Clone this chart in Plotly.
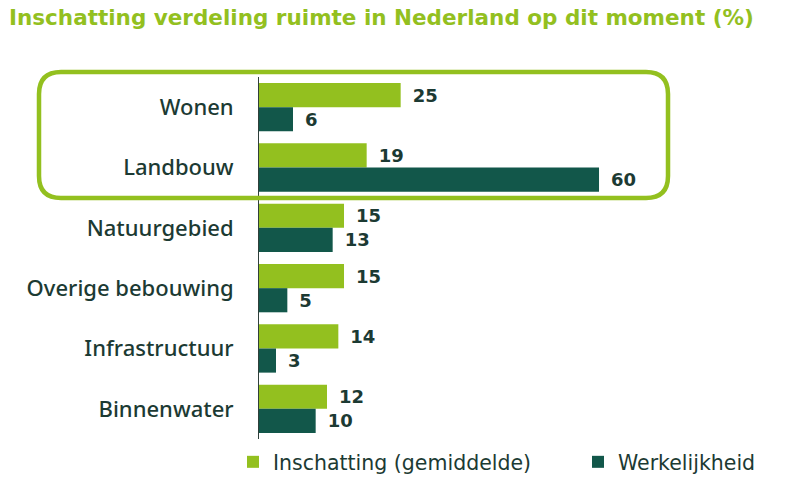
import plotly.graph_objects as go

categories = ["Wonen", "Landbouw", "Natuurgebied", "Overige bebouwing", "Infrastructuur", "Binnenwater"]
inschatting = [25, 19, 15, 15, 14, 12]
werkelijkheid = [6, 60, 13, 5, 3, 10]
series_names = ["Inschatting (gemiddelde)", "Werkelijkheid"]
title_text = "Inschatting verdeling ruimte in Nederland op dit moment (%)"

LIGHT = "#93C01F"
DARK = "#12574A"
TEXT = "#1C3A33"
FONT = "DejaVu Sans"

W, H = 800, 480
ML, MR, MT, MB = 259, 0, 77, 41
PW = W - ML - MR
PH = H - MT - MB
XMAX = PW / 5.667

GAP = "\u2002"

fig = go.Figure()
for name, vals, col in [(series_names[0], inschatting, LIGHT), (series_names[1], werkelijkheid, DARK)]:
    fig.add_trace(go.Bar(
        y=categories, x=vals, name=name, orientation="h",
        marker=dict(color=col, line=dict(width=0)),
        text=[GAP + str(v) for v in vals], textposition="outside",
        textfont=dict(family=FONT, size=18, color=TEXT, weight="bold"),
        cliponaxis=False,
    ))

def px2paper_x(px):
    return (px - ML) / PW

def px2paper_y(py):
    return 1 - (py - MT) / PH

# rounded highlight box around the first two categories
x0, x1, y0, y1, r = 39, 668, 72, 198, 22
X = px2paper_x; Y = px2paper_y
path = (f"M {X(x0 + r)} {Y(y0)} L {X(x1 - r)} {Y(y0)} Q {X(x1)} {Y(y0)} {X(x1)} {Y(y0 + r)} "
        f"L {X(x1)} {Y(y1 - r)} Q {X(x1)} {Y(y1)} {X(x1 - r)} {Y(y1)} "
        f"L {X(x0 + r)} {Y(y1)} Q {X(x0)} {Y(y1)} {X(x0)} {Y(y1 - r)} "
        f"L {X(x0)} {Y(y0 + r)} Q {X(x0)} {Y(y0)} {X(x0 + r)} {Y(y0)} Z")
fig.add_shape(type="path", path=path, xref="paper", yref="paper",
              line=dict(color=LIGHT, width=4.5), layer="above")

fig.update_layout(
    template="none",
    width=W, height=H,
    margin=dict(l=ML, r=MR, t=MT, b=MB, autoexpand=False),
    paper_bgcolor="white", plot_bgcolor="white",
    barmode="group", bargap=0.2, bargroupgap=0,
    title=dict(text=title_text, x=9 / W, xanchor="left", y=1 - 17 / H, yanchor="middle",
               font=dict(family=FONT, size=21.5, color=LIGHT, weight="bold")),
    xaxis=dict(range=[0, XMAX], visible=False, showgrid=False, zeroline=False, automargin=False),
    yaxis=dict(autorange="reversed", showgrid=False, zeroline=False, showline=True, automargin=False,
               linecolor="#2F3F3A", linewidth=1, ticks="", ticklabelstandoff=20,
               tickfont=dict(family="Noto Sans", size=22, color=TEXT, weight=500)),
    legend=dict(orientation="h", xref="paper", yref="paper",
                x=px2paper_x(233), xanchor="left", y=px2paper_y(462), yanchor="middle",
                font=dict(family=FONT, size=20.5, color=TEXT), entrywidth=300, entrywidthmode="pixels",
                itemsizing="constant", bgcolor="rgba(0,0,0,0)", borderwidth=0),
    showlegend=True,
)

fig.write_html("out.html", config={"displayModeBar": False},
               post_script="document.body.style.margin='0';")
